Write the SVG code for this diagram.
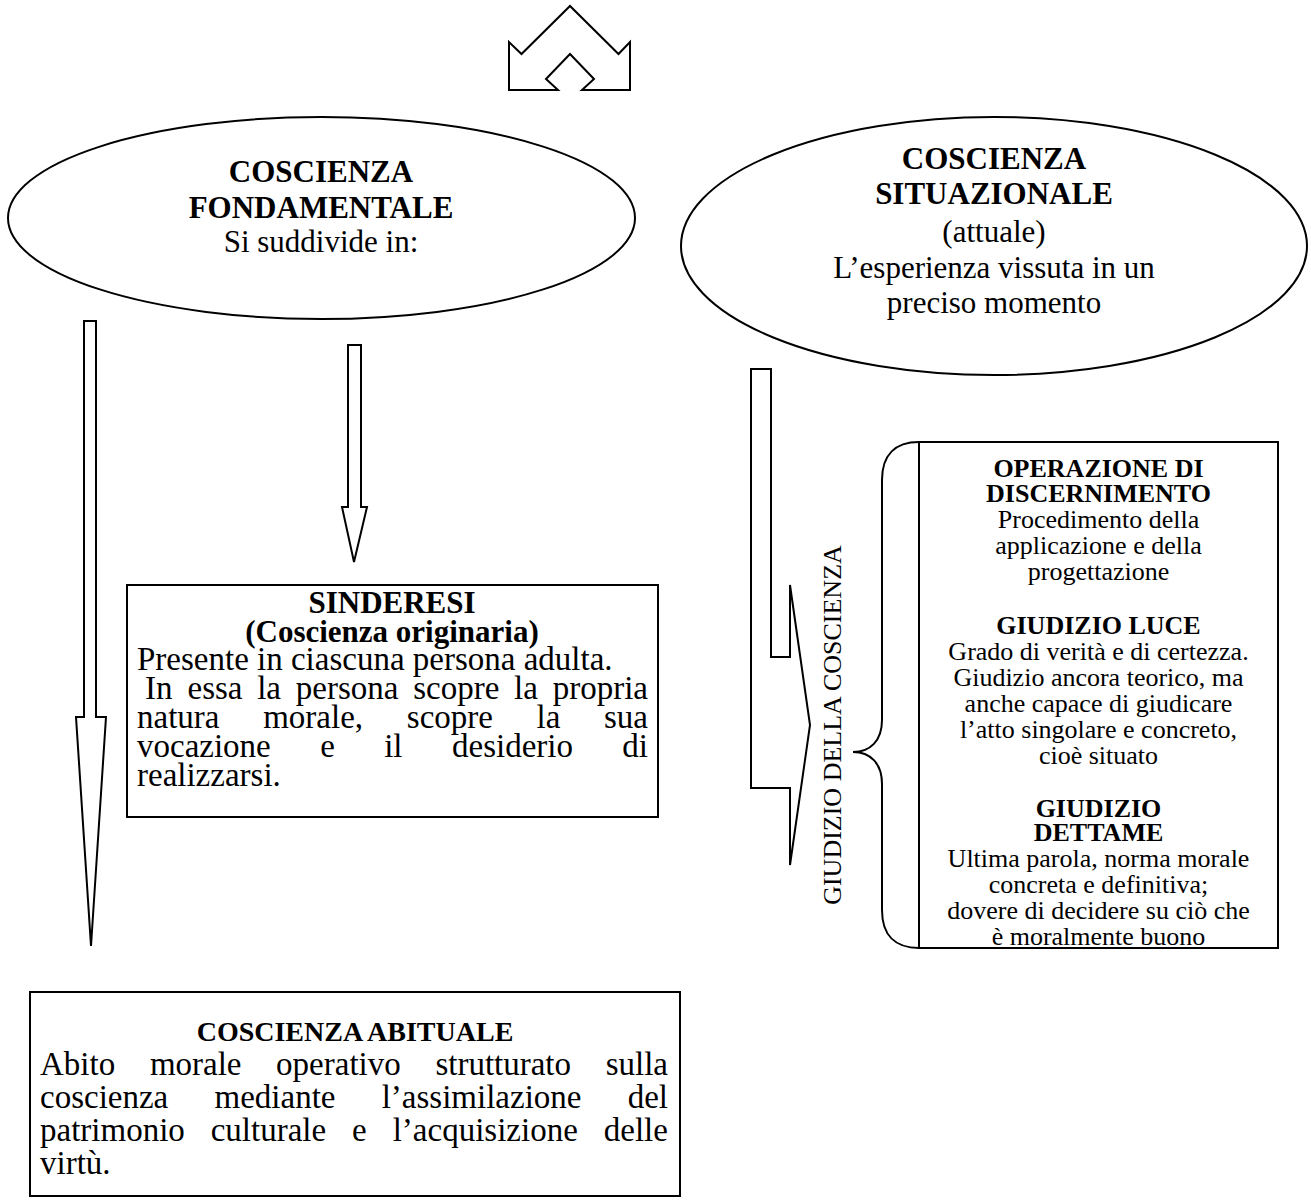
<svg xmlns="http://www.w3.org/2000/svg" width="1311" height="1204" viewBox="0 0 1311 1204">
<style>
.t{font-family:"Liberation Serif","Times New Roman",serif;fill:#000}
.b{font-weight:bold}
.c{text-anchor:middle}
.s{fill:#fff;stroke:#000;stroke-width:2}
.l{fill:none;stroke:#000;stroke-width:2}
.f28{font-size:28px}
.f31{font-size:31px}
.f33{font-size:33px}
.f26{font-size:26px}
</style>
<rect width="1311" height="1204" fill="#fff"/>

<g id="icon">
<polygon class="s" points="509,90 509,42 521.5,54 570,6 618.5,54 630,42 630,90 582,90 594,79 570,54 546,79 558,90"/>
</g>

<g id="connectors">
<polygon class="s" points="84,321 96,321 96,717 106,717 91,946 76,717 84,717"/>
<polygon class="s" points="348,345 361,345 361,507 367,507 354,562 342,507 348,507"/>
<polygon class="s" points="751,369 771,369 771,657 790,657 790,585 810,725 790,865 790,788 751,788"/>
</g>

<g id="coscienza-fondamentale">
<ellipse class="s" cx="321.5" cy="218" rx="313.5" ry="101"/>
<text class="t b c f31" x="321" y="182">COSCIENZA</text>
<text class="t b c f31" x="321" y="218">FONDAMENTALE</text>
<text class="t c f31" x="321" y="252">Si suddivide in:</text>
</g>

<g id="coscienza-situazionale">
<ellipse class="s" cx="994" cy="246" rx="313" ry="129"/>
<text class="t b c f31" x="994" y="169">COSCIENZA</text>
<text class="t b c f31" x="994" y="204">SITUAZIONALE</text>
<text class="t c f31" x="994" y="242">(attuale)</text>
<text class="t c f31" x="994" y="278">L’esperienza vissuta in un</text>
<text class="t c f31" x="994" y="313">preciso momento</text>
</g>

<g id="sinderesi">
<rect class="s" x="127" y="585" width="531" height="232"/>
<text class="t b c f31" x="392" y="613">SINDERESI</text>
<text class="t b c f31" x="392" y="642">(Coscienza originaria)</text>
<text class="t f33" x="137" y="670">Presente in ciascuna persona adulta.</text>
<text class="t f33" y="699"><tspan x="145">In</tspan><tspan x="187.5">essa</tspan><tspan x="257.2">la</tspan><tspan x="295.8">persona</tspan><tspan x="413.2">scopre</tspan><tspan x="514.1">la</tspan><tspan x="552.7">propria</tspan></text>
<text class="t f33" y="728"><tspan x="137">natura</tspan><tspan x="263.2">morale,</tspan><tspan x="406.8">scopre</tspan><tspan x="536.6">la</tspan><tspan x="604">sua</tspan></text>
<text class="t f33" y="757"><tspan x="137">vocazione</tspan><tspan x="320.2">e</tspan><tspan x="384.2">il</tspan><tspan x="452">desiderio</tspan><tspan x="622.3">di</tspan></text>
<text class="t f33" x="137" y="786">realizzarsi.</text>
</g>

<g id="coscienza-abituale">
<rect class="s" x="30" y="992" width="650" height="204"/>
<text class="t b c f28" x="355" y="1041">COSCIENZA ABITUALE</text>
<text class="t f33" y="1075"><tspan x="40">Abito</tspan><tspan x="149.9">morale</tspan><tspan x="276.1">operativo</tspan><tspan x="435.4">strutturato</tspan><tspan x="605.7">sulla</tspan></text>
<text class="t f33" y="1108"><tspan x="40">coscienza</tspan><tspan x="214.5">mediante</tspan><tspan x="381.7">l’assimilazione</tspan><tspan x="627.7">del</tspan></text>
<text class="t f33" y="1141"><tspan x="40">patrimonio</tspan><tspan x="210.7">culturale</tspan><tspan x="352.1">e</tspan><tspan x="392.7">l’acquisizione</tspan><tspan x="603.8">delle</tspan></text>
<text class="t f33" x="40" y="1174">virtù.</text>
</g>

<g id="giudizio-label">
<text class="t c f26" transform="translate(841,725) rotate(-90)">GIUDIZIO DELLA COSCIENZA</text>
</g>

<g id="giudizio-box">
<rect class="s" x="919" y="442" width="359" height="506"/>
<path class="l" d="M919,442 C895,442 882,455 882,480 L882,720 C882,741 870,752 853,752 C870,752 882,763 882,784 L882,910 C882,935 895,948 919,948"/>
<text class="t b c f26" x="1098.5" y="477">OPERAZIONE DI</text>
<text class="t b c f26" x="1098.5" y="502">DISCERNIMENTO</text>
<text class="t c f26" x="1098.5" y="528">Procedimento della</text>
<text class="t c f26" x="1098.5" y="554">applicazione e della</text>
<text class="t c f26" x="1098.5" y="580">progettazione</text>
<text class="t b c f26" x="1098.5" y="634">GIUDIZIO LUCE</text>
<text class="t c f26" x="1098.5" y="660">Grado di verità e di certezza.</text>
<text class="t c f26" x="1098.5" y="686">Giudizio ancora teorico, ma</text>
<text class="t c f26" x="1098.5" y="712">anche capace di giudicare</text>
<text class="t c f26" x="1098.5" y="738">l’atto singolare e concreto,</text>
<text class="t c f26" x="1098.5" y="764">cioè situato</text>
<text class="t b c f26" x="1098.5" y="817">GIUDIZIO</text>
<text class="t b c f26" x="1098.5" y="841">DETTAME</text>
<text class="t c f26" x="1098.5" y="867">Ultima parola, norma morale</text>
<text class="t c f26" x="1098.5" y="893">concreta e definitiva;</text>
<text class="t c f26" x="1098.5" y="919">dovere di decidere su ciò che</text>
<text class="t c f26" x="1098.5" y="945">è moralmente buono</text>
</g>
</svg>
